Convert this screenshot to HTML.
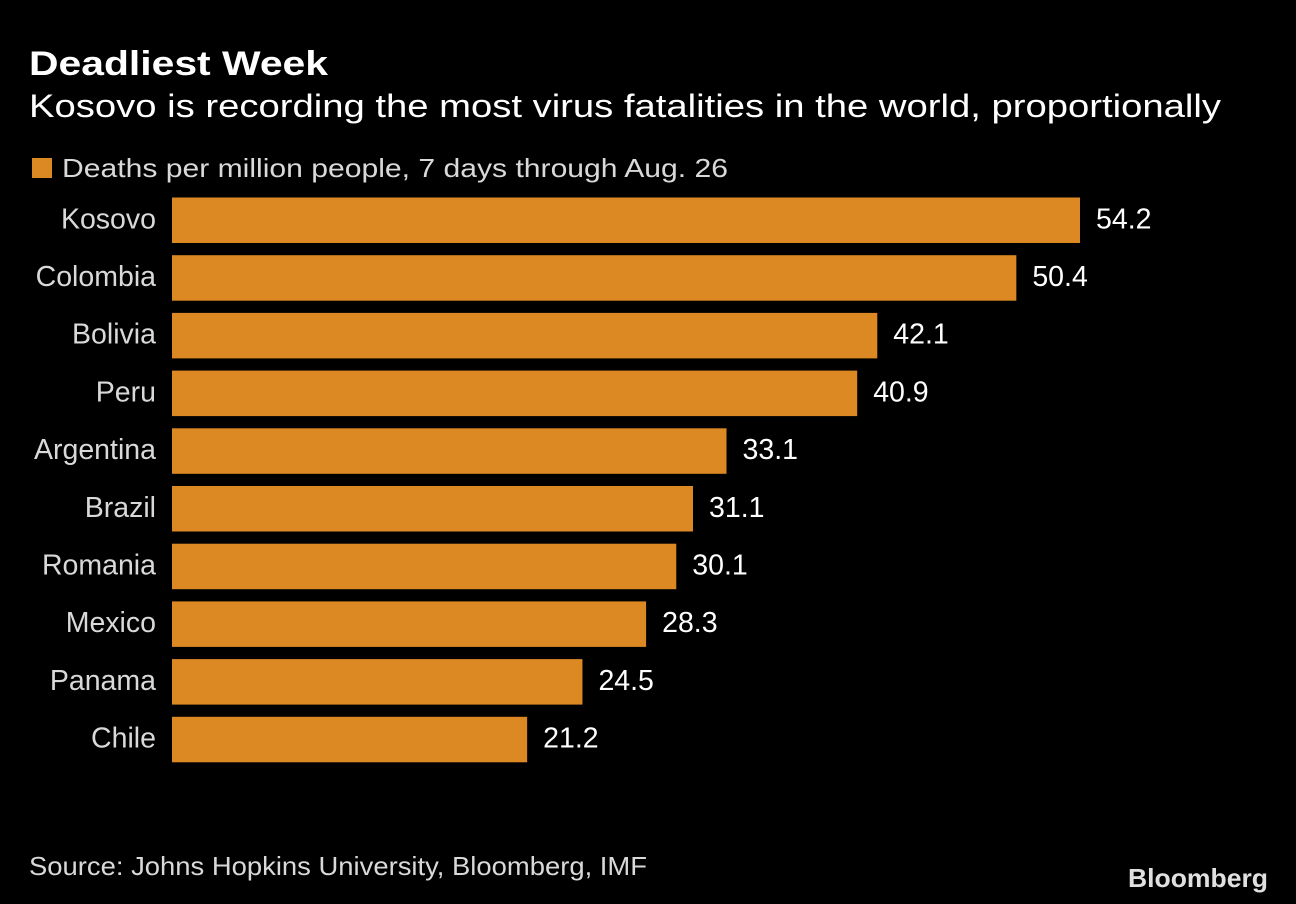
<!DOCTYPE html>
<html><head><meta charset="utf-8"><style>
html,body{margin:0;padding:0;background:#000;}
svg{display:block;font-family:"Liberation Sans",sans-serif;}
</style></head><body>
<svg id="chart" width="1296" height="904" viewBox="0 0 1296 904">
<rect width="1296" height="904" fill="#000"/>
<text x="29" y="75" font-size="34" font-weight="bold" fill="#fff" textLength="299" lengthAdjust="spacingAndGlyphs">Deadliest Week</text>
<text x="29" y="117" font-size="32" fill="#fff" textLength="1192" lengthAdjust="spacingAndGlyphs">Kosovo is recording the most virus fatalities in the world, proportionally</text>
<rect x="32" y="158" width="20" height="20" fill="#dc8823"/>
<text x="62" y="177" font-size="26" fill="#d9d9d9" textLength="666" lengthAdjust="spacingAndGlyphs">Deaths per million people, 7 days through Aug. 26</text>
<g id="bars"></g>
<text x="29" y="875" font-size="26" fill="#d9d9d9" textLength="618" lengthAdjust="spacingAndGlyphs">Source: Johns Hopkins University, Bloomberg, IMF</text>
<text x="1268" y="887" font-size="26" font-weight="bold" fill="#e0e0e0" text-anchor="end" textLength="140" lengthAdjust="spacingAndGlyphs">Bloomberg</text>
</svg>
<script>
const categories = ["Kosovo","Colombia","Bolivia","Peru","Argentina","Brazil","Romania","Mexico","Panama","Chile"];
const values = [54.2,50.4,42.1,40.9,33.1,31.1,30.1,28.3,24.5,21.2];
const valueLabels = ["54.2","50.4","42.1","40.9","33.1","31.1","30.1","28.3","24.5","21.2"];
const x0 = 172, pxPerUnit = (1080-172)/54.2;
const xScale = v => x0 + v*pxPerUnit;
const yScale = i => 197.5 + i*57.7;
const barH = 45.5;
const ns = "http://www.w3.org/2000/svg";
const g = document.getElementById("bars");
categories.forEach((c,i)=>{
  const y = yScale(i);
  const r = document.createElementNS(ns,"rect");
  r.setAttribute("x",x0); r.setAttribute("y",y);
  r.setAttribute("width",xScale(values[i])-x0); r.setAttribute("height",barH);
  r.setAttribute("fill","#dc8823");
  
  
  g.appendChild(r);
  const t = document.createElementNS(ns,"text");
  t.setAttribute("x",156); t.setAttribute("y",y+barH/2+8);
  t.setAttribute("text-anchor","end"); t.setAttribute("font-size","28.5"); t.setAttribute("fill","#d9d9d9");
  t.textContent = c;
  
  
  g.appendChild(t);
  const v = document.createElementNS(ns,"text");
  v.setAttribute("x",xScale(values[i])+16); v.setAttribute("y",y+barH/2+8);
  v.setAttribute("font-size","28.5"); v.setAttribute("fill","#fff");
  v.textContent = valueLabels[i];
  
  
  g.appendChild(v);
});
</script>
</body></html>
